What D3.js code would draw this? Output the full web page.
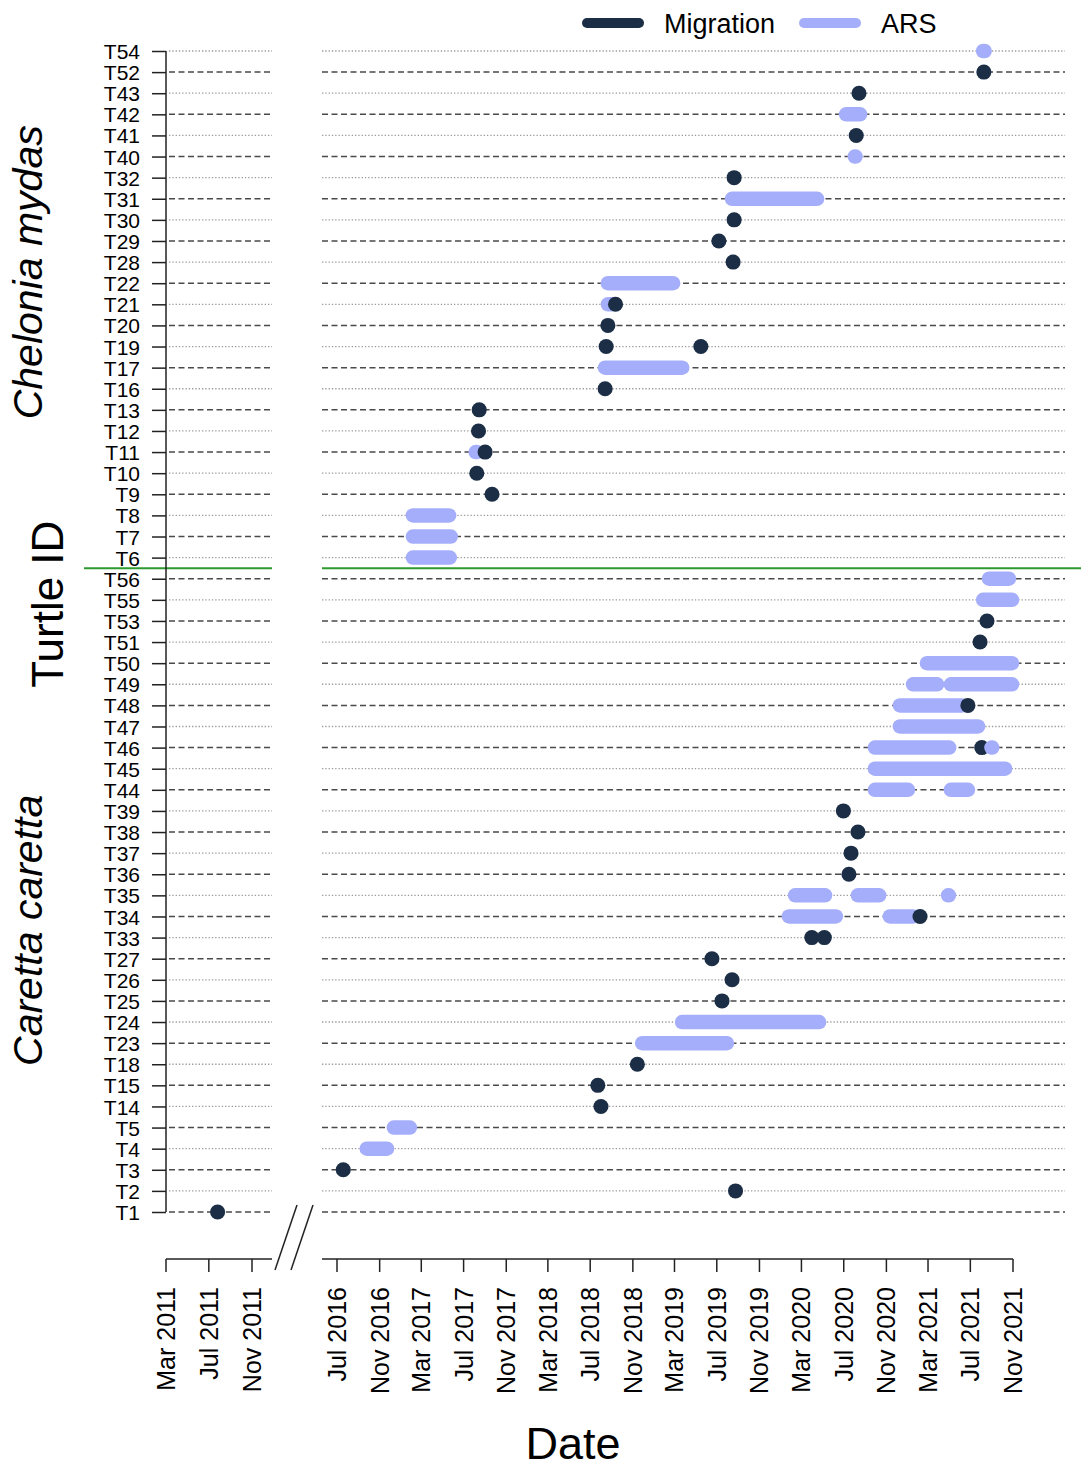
<!DOCTYPE html>
<html>
<head>
<meta charset="utf-8">
<script src="https://cdn.jsdelivr.net/npm/d3@7"></script>
<style>
  body { margin: 0; background: #fff; }
  text { font-family: "Liberation Sans", Arial, sans-serif; fill: #000; }
</style>
</head>
<body>
<svg id="svg" width="1081" height="1470"></svg>
<script>
// rows, top to bottom
const rowIds = [
  "T54", "T52", "T43", "T42", "T41", "T40", "T32", "T31", "T30", "T29", "T28",
  "T22", "T21", "T20", "T19", "T17", "T16", "T13", "T12", "T11", "T10", "T9",
  "T8", "T7", "T6",
  "T56", "T55", "T53", "T51", "T50", "T49", "T48", "T47", "T46", "T45", "T44",
  "T39", "T38", "T37", "T36", "T35", "T34", "T33", "T27", "T26", "T25", "T24",
  "T23", "T18", "T15", "T14", "T5", "T4", "T3", "T2", "T1",
];

// single-date migration events [id, date]
const migrationEvents = [
  ["T52", "2021-08-09"], ["T43", "2020-08-14"], ["T41", "2020-08-06"],
  ["T32", "2019-08-20"], ["T30", "2019-08-20"], ["T29", "2019-07-07"],
  ["T28", "2019-08-17"], ["T21", "2018-09-12"], ["T20", "2018-08-21"],
  ["T19", "2018-08-16"], ["T19", "2019-05-16"], ["T16", "2018-08-13"],
  ["T13", "2017-08-15"], ["T12", "2017-08-13"], ["T11", "2017-09-01"],
  ["T10", "2017-08-08"], ["T9", "2017-09-21"],
  ["T53", "2021-08-18"], ["T51", "2021-07-29"], ["T48", "2021-06-24"],
  ["T46", "2021-08-03"], ["T39", "2020-06-30"], ["T38", "2020-08-11"],
  ["T37", "2020-07-22"], ["T36", "2020-07-16"], ["T34", "2021-02-06"],
  ["T33", "2020-03-31"], ["T33", "2020-05-06"], ["T27", "2019-06-17"],
  ["T26", "2019-08-14"], ["T25", "2019-07-16"], ["T18", "2018-11-14"],
  ["T15", "2018-07-23"], ["T14", "2018-08-01"], ["T3", "2016-07-19"],
  ["T2", "2019-08-24"], ["T1", "2011-07-26"],
];

// ARS periods [id, start, end]
const arsPeriods = [
  ["T54", "2021-08-07", "2021-08-11"], ["T42", "2020-07-08", "2020-08-17"],
  ["T40", "2020-08-02", "2020-08-04"], ["T31", "2019-08-14", "2020-04-15"],
  ["T22", "2018-08-21", "2019-02-25"], ["T21", "2018-08-21", "2018-08-30"],
  ["T17", "2018-08-13", "2019-03-23"], ["T11", "2017-08-05", "2017-08-08"],
  ["T8", "2017-02-05", "2017-05-20"], ["T7", "2017-02-05", "2017-05-25"],
  ["T6", "2017-02-05", "2017-05-22"],
  ["T56", "2021-08-24", "2021-10-20"], ["T55", "2021-08-07", "2021-10-29"],
  ["T50", "2021-02-26", "2021-10-29"], ["T49", "2021-01-17", "2021-03-27"],
  ["T49", "2021-05-06", "2021-10-29"], ["T48", "2020-12-10", "2021-06-07"],
  ["T47", "2020-12-10", "2021-07-23"], ["T46", "2020-09-29", "2021-05-01"],
  ["T46", "2021-08-31", "2021-09-02"], ["T45", "2020-09-29", "2021-10-09"],
  ["T44", "2020-09-29", "2021-01-02"], ["T44", "2021-05-06", "2021-06-24"],
  ["T35", "2020-02-12", "2020-05-08"], ["T35", "2020-08-11", "2020-10-11"],
  ["T35", "2021-04-28", "2021-04-30"], ["T34", "2020-01-25", "2020-06-08"],
  ["T34", "2020-11-11", "2021-01-17"], ["T24", "2019-03-23", "2020-04-21"],
  ["T23", "2018-11-28", "2019-07-30"], ["T5", "2016-12-12", "2017-01-27"],
  ["T4", "2016-09-25", "2016-11-22"],
];

const leftTicks = ["2011-03-01", "2011-07-01", "2011-11-01"];
const rightTicks = [
  "2016-07-01", "2016-11-01", "2017-03-01", "2017-07-01", "2017-11-01",
  "2018-03-01", "2018-07-01", "2018-11-01", "2019-03-01", "2019-07-01",
  "2019-11-01", "2020-03-01", "2020-07-01", "2020-11-01", "2021-03-01",
  "2021-07-01", "2021-11-01",
];
const speciesLabels = [
  { name: "Chelonia mydas", first: "T54", last: "T6" },
  { name: "Caretta caretta", first: "T56", last: "T1" },
];
const legendItems = [
  { key: "Migration", color: "#1b2e45" },
  { key: "ARS", color: "#a5aefb" },
];

const parse = d3.timeParse("%Y-%m-%d");
const fmt = d3.timeFormat("%b %Y");
const colors = { Migration: "#1b2e45", ARS: "#a5aefb" };

const svg = d3.select("#svg");

const xLeft = d3.scaleTime()
  .domain([parse("2011-03-01"), parse("2011-11-01")])
  .range([166, 252]);
const xRight = d3.scaleTime()
  .domain([parse("2016-07-01"), parse("2021-11-01")])
  .range([337, 1013]);
const panels = [
  { x: xLeft, x0: 166, x1: 272, gridStart: 169 },
  { x: xRight, x0: 322, x1: 1065, gridStart: 322 },
];
const xOf = (date) => (date < parse("2014-01-01") ? xLeft(date) : xRight(date));

const y = d3.scalePoint().domain(rowIds).range([51, 1212]);

// grid lines, dashed and dotted alternating from the bottom row
const nRows = rowIds.length;
const isDashed = (i) => (nRows - 1 - i) % 2 === 0;
panels.forEach((p) => {
  svg.append("g")
    .selectAll("line")
    .data(rowIds)
    .enter()
    .append("line")
    .attr("x1", p.gridStart)
    .attr("x2", p.x1)
    .attr("y1", (d) => y(d))
    .attr("y2", (d) => y(d))
    .attr("stroke", (d, i) => (isDashed(i) ? "#4a4a4a" : "#999"))
    .attr("stroke-width", (d, i) => (isDashed(i) ? 1.5 : 1.3))
    .attr("stroke-dasharray", (d, i) => (isDashed(i) ? "6,3.5" : "1.3,2"));
});

// species separator
const sepY = (y("T6") + y("T56")) / 2;
svg.append("line")
  .attr("x1", 84).attr("x2", 272).attr("y1", sepY).attr("y2", sepY)
  .attr("stroke", "#2e9a2e").attr("stroke-width", 2);
svg.append("line")
  .attr("x1", 322).attr("x2", 1081).attr("y1", sepY).attr("y2", sepY)
  .attr("stroke", "#2e9a2e").attr("stroke-width", 2);

// y axis
const yAxis = svg.append("g").attr("transform", "translate(166,0)")
  .call(d3.axisLeft(y).tickSize(14).tickPadding(12));
yAxis.select(".domain").attr("d", `M0,${y("T54")}V${y("T1")}`)
  .attr("stroke", "#222").attr("stroke-width", 1.5);
yAxis.selectAll(".tick line").attr("stroke", "#222").attr("stroke-width", 1.5);
yAxis.selectAll(".tick text")
  .attr("font-size", 21)
  .attr("font-family", "Liberation Sans, Arial, sans-serif")
  .attr("fill", "#000")
  .attr("dy", "0.36em");

// segments: migration as zero length round-capped lines, ARS as periods
const segments = migrationEvents
  .map(([id, d]) => ({ id, type: "Migration", start: parse(d), end: parse(d) }))
  .concat(arsPeriods.map(([id, s, e]) => ({ id, type: "ARS", start: parse(s), end: parse(e) })))
  .sort((a, b) => a.start - b.start);

svg.append("g")
  .selectAll("line")
  .data(segments)
  .enter()
  .append("line")
  .attr("x1", (d) => xOf(d.start) - 0.05)
  .attr("x2", (d) => xOf(d.end) + 0.05)
  .attr("y1", (d) => y(d.id))
  .attr("y2", (d) => y(d.id))
  .attr("stroke", (d) => colors[d.type])
  .attr("stroke-width", (d) => (d.type === "Migration" ? 15 : 14.5))
  .attr("stroke-linecap", "round");

// x axes
const axisY = 1259;
const drawXAxis = (scale, ticks, x0, x1) => {
  const g = svg.append("g").attr("transform", `translate(0,${axisY})`);
  g.append("line").attr("x1", x0).attr("x2", x1)
    .attr("stroke", "#222").attr("stroke-width", 1.5);
  g.selectAll(".tk")
    .data(ticks.map(parse))
    .enter()
    .append("line")
    .attr("x1", (d) => scale(d)).attr("x2", (d) => scale(d))
    .attr("y1", 0).attr("y2", 13)
    .attr("stroke", "#222").attr("stroke-width", 1.5);
  g.selectAll(".lbl")
    .data(ticks.map(parse))
    .enter()
    .append("text")
    .attr("transform", (d) => `translate(${scale(d)},28) rotate(-90)`)
    .attr("text-anchor", "end")
    .attr("dy", "0.36em")
    .attr("font-size", 25)
    .text((d) => fmt(d));
};
drawXAxis(xLeft, leftTicks, 166, 272);
drawXAxis(xRight, rightTicks, 322, 1013);

// axis break marks
[0, 16].forEach((off) => {
  svg.append("line")
    .attr("x1", 275 + off).attr("y1", 1270)
    .attr("x2", 297 + off).attr("y2", 1205)
    .attr("stroke", "#222").attr("stroke-width", 1.5);
});

// titles
svg.append("text")
  .attr("x", 573).attr("y", 1459)
  .attr("text-anchor", "middle")
  .attr("font-size", 45)
  .text("Date");

svg.append("text")
  .attr("transform", `translate(63,${sepY + 36}) rotate(-90)`)
  .attr("text-anchor", "middle")
  .attr("font-size", 44)
  .text("Turtle ID");

// species names sit a little off their row-block centres
const speciesShift = [-32, 35];
svg.selectAll(".species")
  .data(speciesLabels)
  .enter()
  .append("text")
  .attr("transform", (d, i) =>
    `translate(42,${(y(d.first) + y(d.last)) / 2 + speciesShift[i]}) rotate(-90)`)
  .attr("text-anchor", "middle")
  .attr("font-size", 41)
  .attr("font-style", "italic")
  .text((d) => d.name);

// legend
const legend = svg.append("g")
  .selectAll("g")
  .data(legendItems)
  .enter()
  .append("g")
  .attr("transform", (d, i) => `translate(${[587, 804][i]},23)`);
legend.append("line")
  .attr("x1", 0).attr("x2", 52)
  .attr("stroke", (d) => d.color)
  .attr("stroke-width", 10)
  .attr("stroke-linecap", "round");
legend.append("text")
  .attr("x", 77)
  .attr("dy", "0.36em")
  .attr("font-size", 27)
  .text((d) => d.key);
</script>
</body>
</html>
